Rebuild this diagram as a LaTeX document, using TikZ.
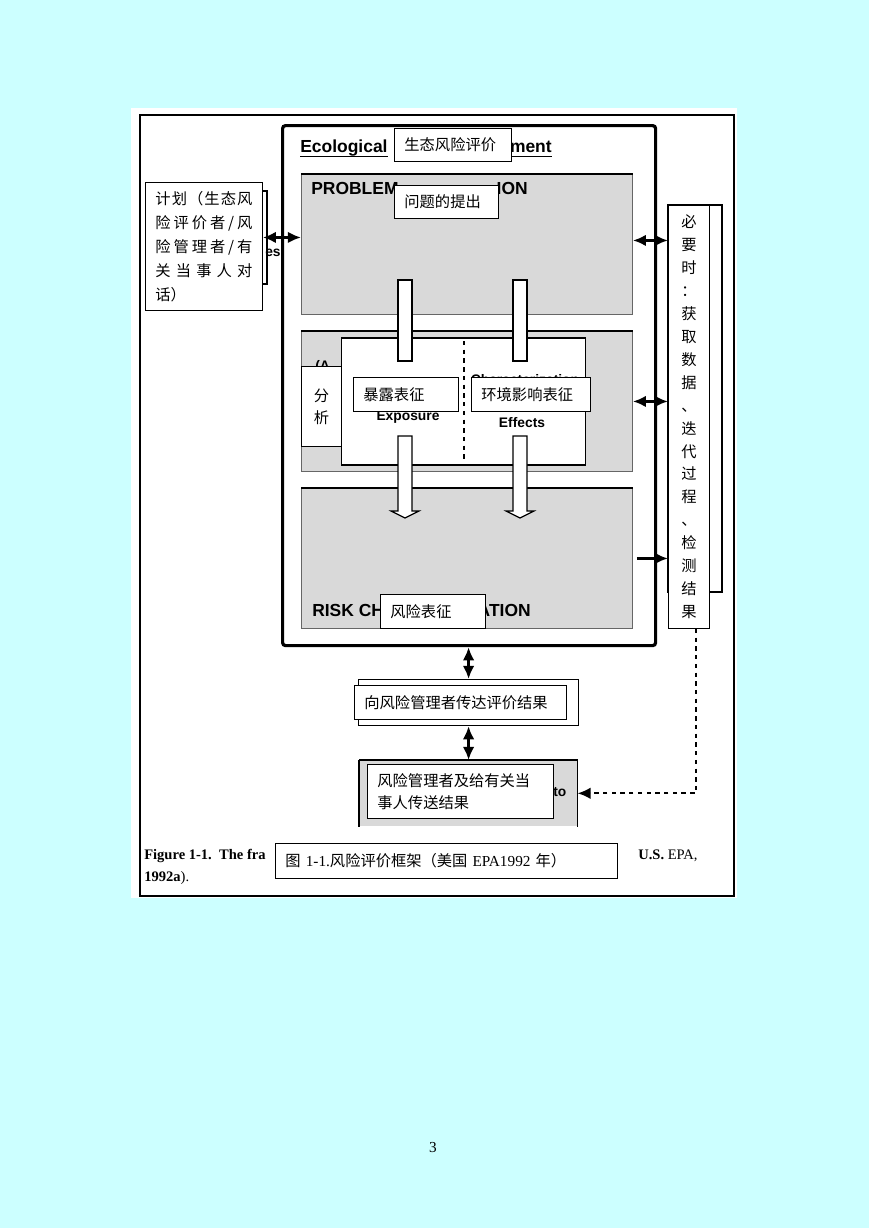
\documentclass[tikz,border=0pt]{standalone}
\usepackage{fontspec}
\setmainfont{Liberation Serif}
\setsansfont{Liberation Sans}
\newfontfamily\cjk{Noto Sans CJK SC}
\usetikzlibrary{arrows.meta}

\definecolor{pagecyan}{HTML}{CCFFFF}
\definecolor{panelgray}{HTML}{D9D9D9}
\newcommand{\px}{0.6875pt}

\tikzset{
  cnbox/.style={draw=black, line width=0.6pt, fill=white, anchor=north west,
    inner xsep=10*\px, inner ysep=0pt, align=left,
    font=\cjk\fontsize{10.5}{15}\selectfont},
  stagebox/.style={fill=panelgray, draw=black!60, line width=0.6pt,
    anchor=north west, minimum width=331*\px, minimum height=140*\px},
  entext/.style={font=\sffamily\bfseries\fontsize{12}{13}\selectfont, inner sep=0pt},
  ensmall/.style={font=\sffamily\bfseries\fontsize{9.5}{10}\selectfont, inner sep=0pt},
  captext/.style={font=\fontsize{10}{12}\selectfont, inner sep=0pt, anchor=base west},
  dblarrow/.style={{Latex[length=9pt,width=8pt]}-{Latex[length=9pt,width=8pt]}, line width=1.8pt},
  onearrow/.style={-{Latex[length=9pt,width=8pt]}, line width=1.8pt},
  hollowbar/.style={draw=black, line width=0.8pt, fill=white},
}

\begin{document}
\begin{tikzpicture}[x=0.6875pt, y=-0.6875pt]

  %% ---- Page and panel ----
  \fill[pagecyan] (0,0) rectangle (869,1228);
  \useasboundingbox (0,0) rectangle (869,1228);
  \fill[white] (131,108) rectangle (737,898);
  \draw[line width=1.4pt] (140,115) rectangle (734,896);

  %% ---- Assessment frame ----
  \node[draw, line width=2.2pt, rounded corners=2pt, anchor=north west,
    minimum width=373*\px, minimum height=520*\px] (era) at (281,124) {};
  \node[entext, anchor=base west] (ecoleft) at (300,152) {Ecological};
  \node[entext, anchor=base east] (ecoright) at (552,152) {ment};
  \draw[line width=1pt] ([yshift=-3pt]ecoleft.base west) -- ([yshift=-3pt]ecoleft.base east);
  \draw[line width=1pt] ([yshift=-3pt]ecoright.base west) -- ([yshift=-3pt]ecoright.base east);

  %% ---- Stage boxes ----
  \node[stagebox] (pf) at (301,174) {};
  \node[stagebox] (an) at (301,331) {};
  \node[stagebox] (rc) at (301,488) {};
  \foreach \s in {pf,an,rc}
    \draw[line width=1.6pt] (\s.north west) -- (\s.north east);

  \node[entext, anchor=base west] at (311,194) {PROBLEM};
  \node[entext, anchor=base east] at (528,194) {ION};
  \node[entext, anchor=base west] at (312,616) {RISK CH};
  \node[entext, anchor=base east] at (531,616) {ATION};

  %% ---- Analysis inner box ----
  \node[draw, line width=0.8pt, fill=white, anchor=north west,
    minimum width=244*\px, minimum height=126*\px] (anin) at (341,338) {};
  \draw[line width=1.6pt] (anin.north west) -- (anin.north east);
  \draw[line width=1.6pt] (anin.south west) -- (anin.south east);
  \draw[dashed, line width=1.4pt] (464,341) -- (464,459);
  \node[ensmall, anchor=base west] at (315,370) {(A};
  \node[ensmall, anchor=base] at (525,384) {Characterization};
  \node[ensmall, anchor=base] at (408,420) {Exposure};
  \node[ensmall, anchor=base] at (522,427) {Effects};

  %% ---- Hollow arrows between stages ----
  \foreach \bx in {398,513} {
    \draw[hollowbar] (\bx,280) rectangle ({\bx+14},361);
    \draw[hollowbar] (\bx,436) -- (\bx,511) -- ({\bx-7},511) -- ({\bx+7},518)
      -- ({\bx+21},511) -- ({\bx+14},511) -- ({\bx+14},436) -- cycle;
  }

  %% ---- Chinese labels on the frame ----
  \node[cnbox, text width=97*\px, minimum height=33*\px] (eratitle) at (394,128) {生态风险评价};
  \node[cnbox, text width=84*\px, minimum height=33*\px] (pflabel) at (394,185) {问题的提出};
  \node[cnbox, align=center, inner xsep=0pt, text width=40*\px, minimum height=80*\px] (anlabel) at (301,366) {分\\析};
  \node[cnbox, text width=85*\px, minimum height=34*\px] (exlabel) at (353,377) {暴露表征};
  \node[cnbox, text width=99*\px, minimum height=34*\px] (eflabel) at (471,377) {环境影响表征};
  \node[cnbox, text width=85*\px, minimum height=34*\px] (rclabel) at (380,594) {风险表征};

  %% ---- Planning box (left) ----
  \draw[line width=0.8pt] (150,191) rectangle (267,284);
  \node[ensmall, anchor=base west] at (265,256) {es};
  \node[cnbox, text width=97*\px, minimum height=128*\px,
    font=\cjk\fontsize{10.5}{16.5}\selectfont] (plan) at (145,182)
    {\makebox[\linewidth][s]{计\hfill 划\hfill （\hfill 生\hfill 态\hfill 风}\\
     \makebox[\linewidth][s]{险\hfill 评\hfill 价\hfill 者\hfill /\hfill 风}\\
     \makebox[\linewidth][s]{险\hfill 管\hfill 理\hfill 者\hfill /\hfill 有}\\
     \makebox[\linewidth][s]{关\hfill 当\hfill 事\hfill 人\hfill 对}\\
     话）};

  %% ---- Data column (right) ----
  \draw[line width=0.8pt] (668,205) rectangle (722,592);
  \node[cnbox, align=center, inner xsep=0pt, text width=41*\px, minimum height=423*\px,
    font=\cjk\fontsize{10.5}{15.75}\selectfont] (col) at (668,205)
    {必\\要\\时\\：\\获\\取\\数\\据\\、\\迭\\代\\过\\程\\、\\检\\测\\结\\果};

  %% ---- Communication boxes ----
  \node[draw, line width=0.8pt, fill=white, anchor=north west,
    minimum width=220*\px, minimum height=46*\px] (commback) at (358,679) {};
  \node[cnbox, text width=192*\px, minimum height=34*\px] (comm) at (354,685) {向风险管理者传达评价结果};

  \node[fill=panelgray, anchor=north west, inner sep=0pt,
    minimum width=218*\px, minimum height=66*\px] (mgmt) at (359,760) {};
  \draw[line width=0.8pt] (mgmt.south west) -- (mgmt.north west);
  \draw[line width=0.8pt] (mgmt.south east) -- (mgmt.north east);
  \draw[line width=1.6pt] (mgmt.north west) -- (mgmt.north east);
  \node[ensmall, anchor=base west] at (553,796) {to};
  \node[cnbox, text width=166*\px, minimum height=54*\px] (mgmtlabel) at (367,764)
    {风险管理者及给有关当\\事人传送结果};

  %% ---- Connectors ----
  \draw[dblarrow] ([yshift=9*\px]plan.east) -- ([yshift=9*\px]plan.east -| pf.west);
  \draw[dblarrow] ([yshift=4*\px]pf.east) -- ([yshift=4*\px]pf.east -| col.west);
  \draw[dblarrow] (an.east) -- (an.east -| col.west);
  \draw[onearrow] ([xshift=4*\px]rc.east) -- (rc.east -| col.west);
  \draw[dblarrow] (era.south -| commback.north) -- (commback.north);
  \draw[dblarrow] (commback.south) -- (commback.south |- mgmt.north);
  \draw[dashed, line width=1.2pt, -{Latex[length=9pt,width=8pt]}]
    ([xshift=7*\px]col.south) |- (mgmt.east);

  %% ---- Caption ----
  \node[captext] (capa) at (144,859) {\textbf{Figure 1-1.}\ \ \textbf{The fra}};
  \node[captext] (capb) at (638,859) {\textbf{U.S.} EPA,};
  \node[captext] (capc) at (144,881) {\textbf{1992a}).};
  \node[cnbox, text width=322*\px, minimum height=35*\px] (caption) at (275,843)
    {图 \rmfamily 1-1.\cjk 风险评价框架（美国 \rmfamily EPA1992 \cjk 年）};

  %% ---- Page number ----
  \node[font=\fontsize{10.5}{12}\selectfont] (pagenum) at (433,1148) {3};

\end{tikzpicture}
\end{document}
